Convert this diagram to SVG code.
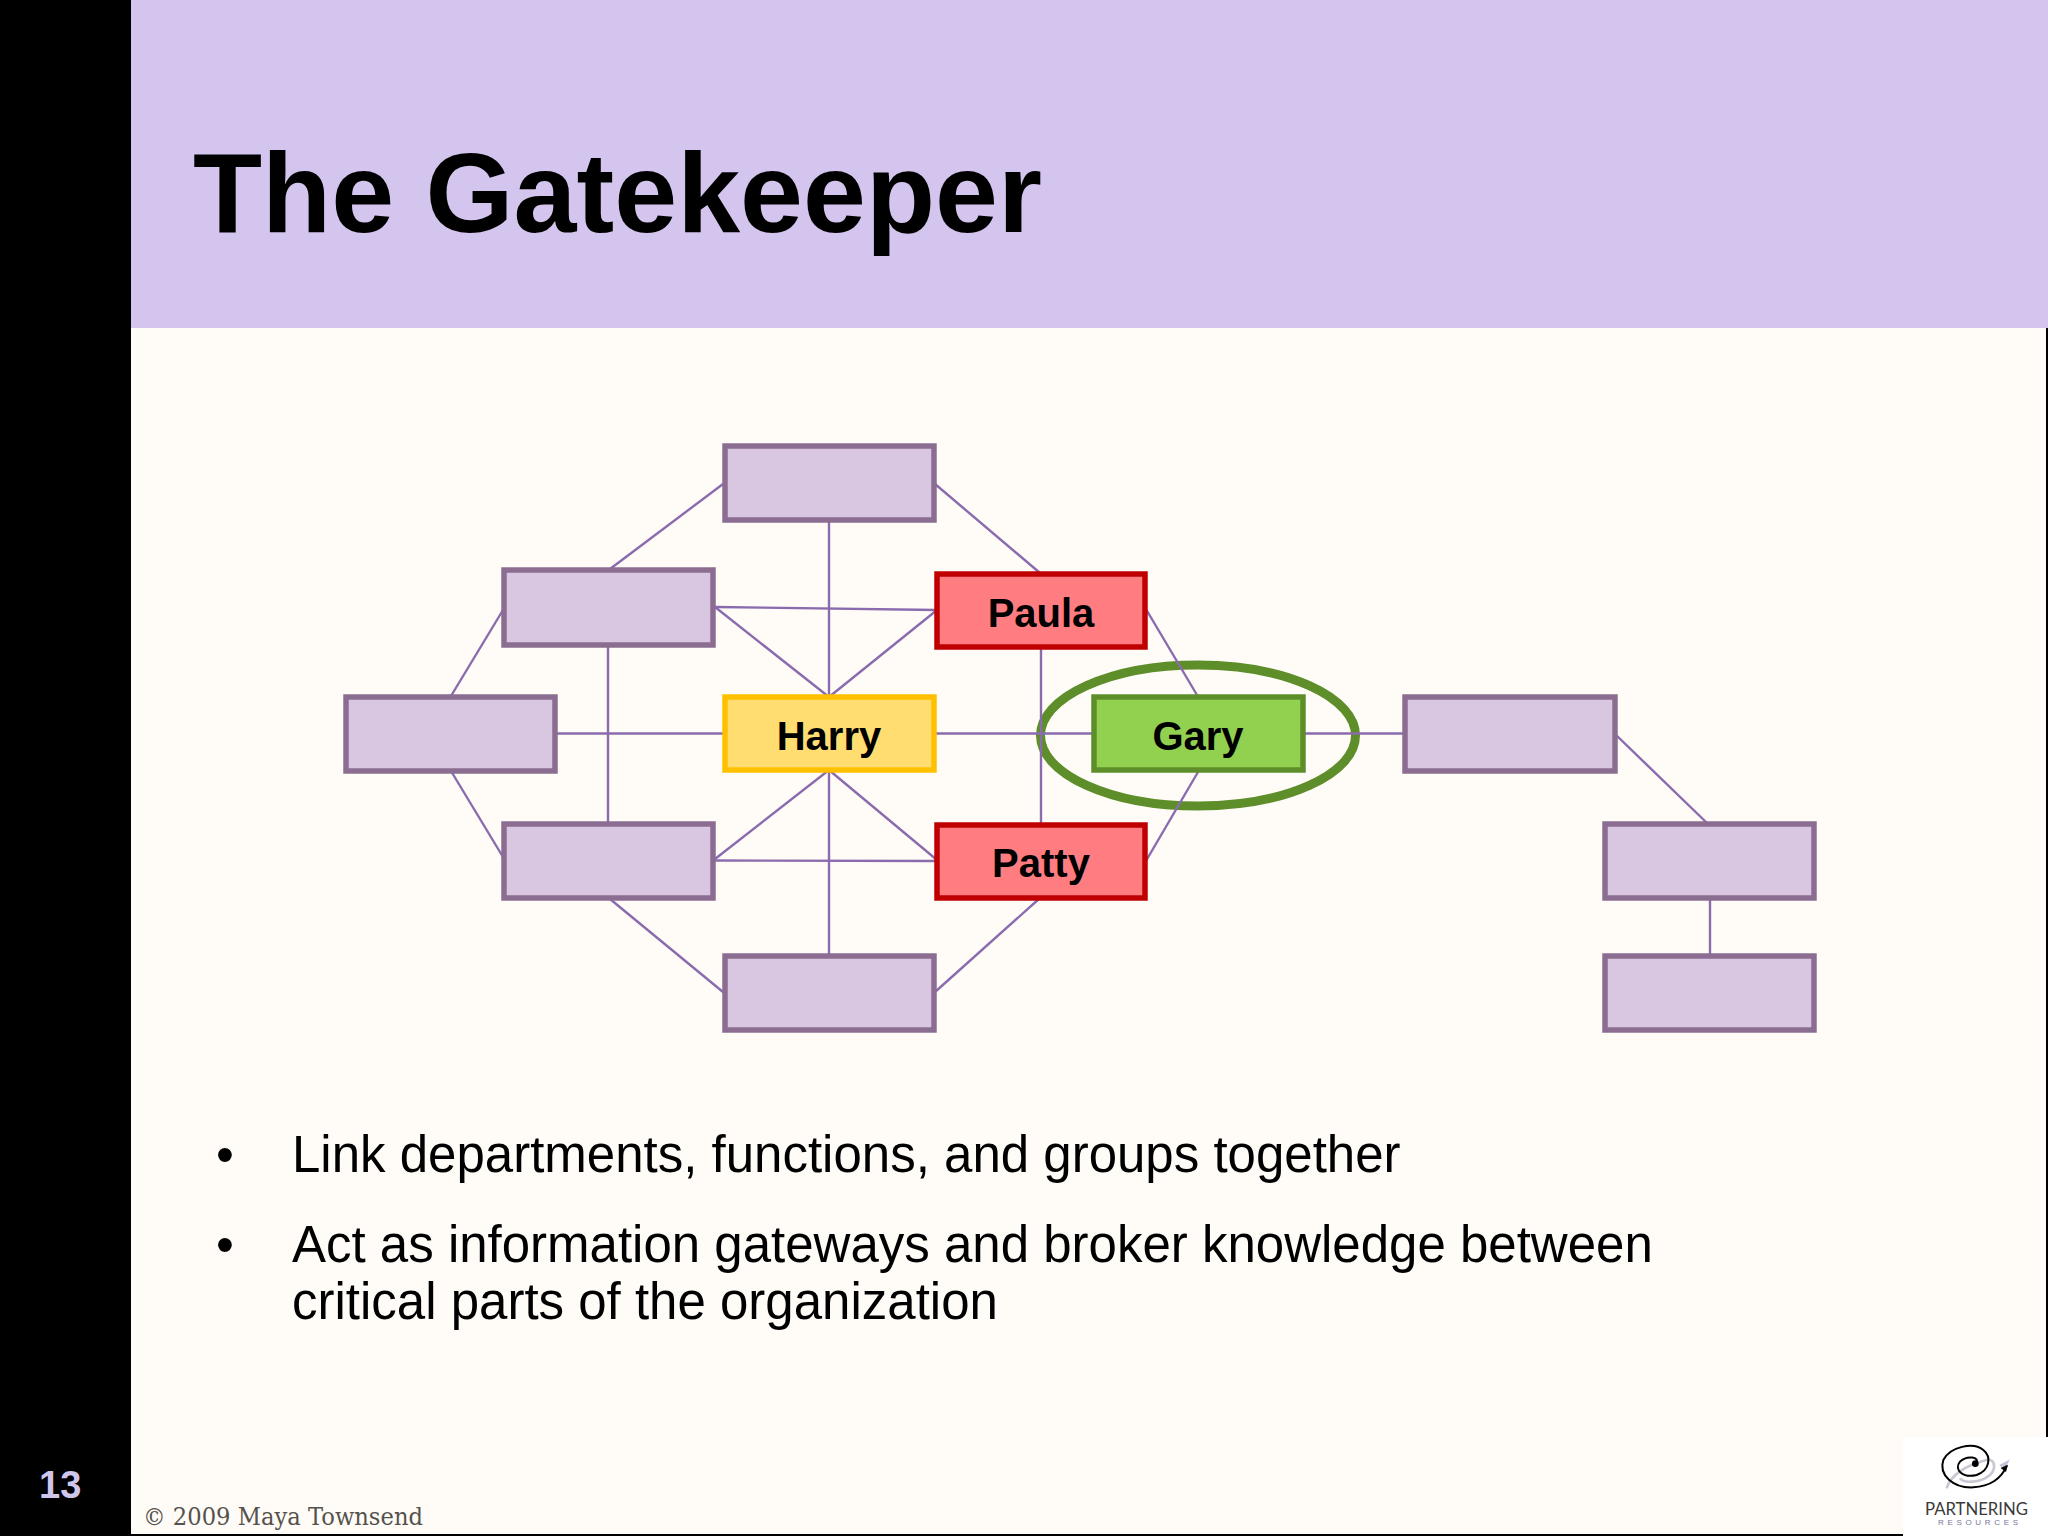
<svg xmlns="http://www.w3.org/2000/svg" width="2048" height="1536" viewBox="0 0 2048 1536">
<style>
.n{stroke-width:5.5}
.p{fill:#D9C6E0;stroke:#8B6D91}
.r{fill:#FF7C80;stroke:#C00000}
.l{font:700 40px "Liberation Sans",Arial,sans-serif;fill:#000;text-anchor:middle}
.b{font:51px "Liberation Sans",Arial,sans-serif;fill:#000}
#connectors line{stroke:#8A6BAE;stroke-width:2.4}
</style>
<rect width="2048" height="1536" fill="#000"/>
<rect x="131" y="0" width="1917" height="1534" fill="#FFFCF8"/>
<rect x="131" y="0" width="1917" height="328" fill="#D4C5EE"/>
<rect x="2046" y="328" width="2" height="1110" fill="#000"/>
<text x="193" y="232" font-family="Liberation Sans,Arial,sans-serif" font-weight="700" font-size="114" fill="#000" textLength="849" lengthAdjust="spacingAndGlyphs">The Gatekeeper</text>
<g id="highlight"><ellipse cx="1198" cy="735.500" rx="157.500" ry="70.500" fill="none" stroke="#5E8E2A" stroke-width="9"/></g>
<g id="connectors">
<line x1="723" y1="484" x2="610" y2="569"/>
<line x1="935" y1="484" x2="1040" y2="573"/>
<line x1="829" y1="521" x2="829" y2="955"/>
<line x1="715" y1="607" x2="937" y2="610"/>
<line x1="715" y1="607" x2="829" y2="697"/>
<line x1="937" y1="610" x2="829" y2="697"/>
<line x1="503" y1="610" x2="451" y2="696"/>
<line x1="608" y1="645" x2="608" y2="823"/>
<line x1="556" y1="733.500" x2="724" y2="733.500"/>
<line x1="935" y1="733.500" x2="1092" y2="733.500"/>
<line x1="1305" y1="733.500" x2="1404" y2="733.500"/>
<line x1="451" y1="771" x2="503" y2="857"/>
<line x1="715" y1="859" x2="829" y2="770"/>
<line x1="715" y1="860.500" x2="937" y2="861"/>
<line x1="829" y1="770" x2="937" y2="860"/>
<line x1="1041" y1="647" x2="1041" y2="823"/>
<line x1="1146.500" y1="610" x2="1197" y2="695"/>
<line x1="1198" y1="772" x2="1146.500" y2="860"/>
<line x1="610" y1="899" x2="723" y2="992"/>
<line x1="1040" y1="898" x2="935" y2="992"/>
<line x1="1615" y1="734" x2="1707" y2="823"/>
<line x1="1710" y1="899" x2="1710" y2="955"/>
</g>
<g id="top"><rect class="n p" x="725" y="446" width="209" height="74"/></g>
<g id="upper-left"><rect class="n p" x="504" y="570" width="209" height="75"/></g>
<g id="left"><rect class="n p" x="346" y="697" width="209" height="74"/></g>
<g id="lower-left"><rect class="n p" x="504" y="824" width="209" height="74"/></g>
<g id="bottom"><rect class="n p" x="725" y="956" width="209" height="74"/></g>
<g id="right"><rect class="n p" x="1405" y="697" width="210" height="74"/></g>
<g id="right-lower"><rect class="n p" x="1605" y="824" width="209" height="74"/></g>
<g id="right-bottom"><rect class="n p" x="1605" y="956" width="209" height="74"/></g>
<g id="harry"><rect class="n" x="725" y="697" width="209" height="73" fill="#FFDD71" stroke="#FFC000"/><text class="l" x="829" y="750">Harry</text></g>
<g id="paula"><rect class="n r" x="937" y="574" width="208" height="73"/><text class="l" x="1041" y="627">Paula</text></g>
<g id="patty"><rect class="n r" x="937" y="825" width="208" height="73"/><text class="l" x="1041" y="877">Patty</text></g>
<g id="gary"><rect class="n" x="1094" y="697" width="209" height="73" fill="#92D050" stroke="#5E8E2A"/><text class="l" x="1198" y="750">Gary</text></g>
<g id="bullets">
<text class="b" x="216" y="1172">•</text><text class="b" x="292" y="1172">Link departments, functions, and groups together</text>
<text class="b" x="216" y="1262">•</text><text class="b" x="292" y="1262">Act as information gateways and broker knowledge between</text>
<text class="b" x="292" y="1319">critical parts of the organization</text>
</g>
<text x="39" y="1498" font-family="Liberation Sans,Arial,sans-serif" font-weight="700" font-size="38" fill="#CFC6EC">13</text>
<text x="143" y="1525" font-family="DejaVu Serif,Liberation Serif,serif" font-size="25" fill="#55524D" textLength="280" lengthAdjust="spacingAndGlyphs">© 2009 Maya Townsend</text>
<g id="logo">
<rect x="1903" y="1437" width="145" height="99" fill="#FFFFFF"/>
<g transform="translate(1850 1400) scale(.3333)" fill="none">
<path d="M290 265C300 225 350 195 410 180C435 175 440 205 420 225C390 250 340 250 330 235" stroke="#C9C8D2" stroke-width="8"/>
<path d="M480 178L462 212L448 195Z" fill="#C9C4DC"/>
<circle cx="376" cy="191" r="10" fill="#000"/>
<path d="M378 190C392 170 350 165 330 185C310 210 340 235 380 225C420 210 425 170 400 150C370 125 300 140 280 180C265 225 310 265 370 262C420 260 455 235 470 198" stroke="#000" stroke-width="6"/>
<path d="M474 194L452 204L468 216Z" fill="#000"/>
</g>
<text x="1925" y="1515" font-family="Lato,Liberation Sans,sans-serif" font-size="18" fill="#3A3A3A" textLength="103" lengthAdjust="spacingAndGlyphs">PARTNERING</text>
<text x="1938" y="1525" font-family="Liberation Sans,sans-serif" font-size="8" fill="#77759C" textLength="80">RESOURCES</text>
</g>
</svg>
